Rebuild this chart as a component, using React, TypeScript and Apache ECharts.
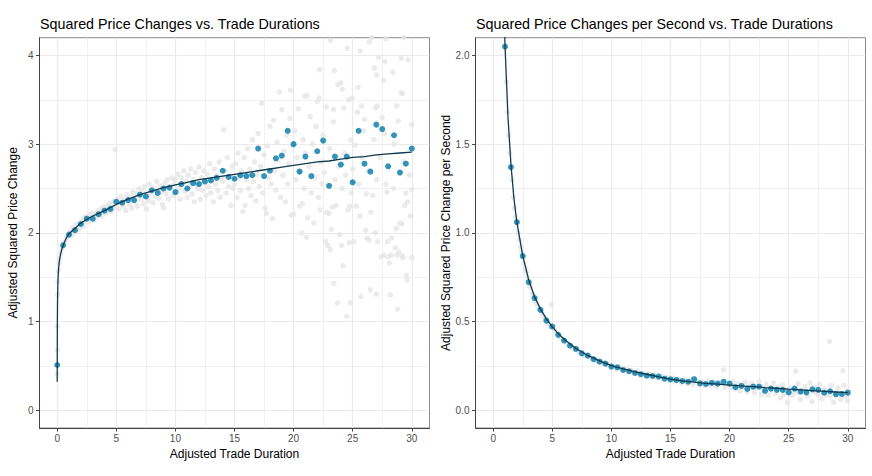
import React, { useEffect, useRef } from "react";
import * as echarts from "echarts";

// ---------- data ----------
const durations = [0, 0.5, 1, 1.5, 2, 2.5, 3, 3.5, 4, 4.5, 5, 5.5, 6, 6.5, 7, 7.5, 8, 8.5, 9, 9.5, 10, 10.5, 11, 11.5, 12, 12.5, 13, 13.5, 14, 14.5, 15, 15.5, 16, 16.5, 17, 17.5, 18, 18.5, 19, 19.5, 20, 20.5, 21, 21.5, 22, 22.5, 23, 23.5, 24, 24.5, 25, 25.5, 26, 26.5, 27, 27.5, 28, 28.5, 29, 29.5, 30];
const leftBlue = [0.51, 1.86, 1.98, 2.03, 2.1, 2.16, 2.16, 2.21, 2.25, 2.27, 2.35, 2.34, 2.37, 2.37, 2.43, 2.41, 2.48, 2.45, 2.5, 2.51, 2.46, 2.55, 2.5, 2.56, 2.55, 2.58, 2.59, 2.62, 2.7, 2.63, 2.61, 2.65, 2.64, 2.65, 2.95, 2.64, 2.7, 2.84, 2.87, 3.15, 3.0, 2.69, 2.86, 2.64, 2.92, 3.04, 2.53, 2.86, 2.77, 2.86, 2.57, 3.15, 2.78, 2.69, 3.22, 3.17, 2.75, 3.1, 2.68, 2.78, 2.95];

const rightDurations = [1, 1.5, 2, 2.5, 3, 3.5, 4, 4.5, 5, 5.5, 6, 6.5, 7, 7.5, 8, 8.5, 9, 9.5, 10, 10.5, 11, 11.5, 12, 12.5, 13, 13.5, 14, 14.5, 15, 15.5, 16, 16.5, 17, 17.5, 18, 18.5, 19, 19.5, 20, 20.5, 21, 21.5, 22, 22.5, 23, 23.5, 24, 24.5, 25, 25.5, 26, 26.5, 27, 27.5, 28, 28.5, 29, 29.5, 30];
const rightBlue = [2.05, 1.37, 1.06, 0.869, 0.722, 0.632, 0.566, 0.505, 0.472, 0.425, 0.393, 0.364, 0.346, 0.321, 0.308, 0.288, 0.274, 0.263, 0.246, 0.242, 0.227, 0.22, 0.21, 0.203, 0.195, 0.193, 0.19, 0.178, 0.174, 0.171, 0.165, 0.161, 0.175, 0.152, 0.148, 0.154, 0.15, 0.161, 0.15, 0.13, 0.137, 0.12, 0.133, 0.133, 0.109, 0.122, 0.115, 0.115, 0.101, 0.122, 0.105, 0.101, 0.118, 0.115, 0.099, 0.107, 0.09, 0.092, 0.099];

const leftCurveX = [0, 0.005, 0.01, 0.02, 0.03, 0.05, 0.075, 0.1, 0.15, 0.2, 0.3, 0.4, 0.5, 0.6, 0.8, 1, 1.25, 1.5, 2, 2.5, 3, 3.5, 4, 5, 6, 7, 8, 9, 10, 11, 12, 13, 14, 15, 16, 17, 18, 19, 20, 21, 22, 23, 24, 25, 26, 27, 28, 29, 30];
const leftCurveY = [0.32, 0.7, 0.95, 1.15, 1.27, 1.4, 1.5, 1.57, 1.65, 1.7, 1.77, 1.82, 1.86, 1.89, 1.95, 1.99, 2.02, 2.05, 2.11, 2.15, 2.19, 2.22, 2.25, 2.32, 2.38, 2.43, 2.47, 2.51, 2.54, 2.57, 2.6, 2.62, 2.64, 2.66, 2.68, 2.7, 2.72, 2.74, 2.76, 2.78, 2.8, 2.81, 2.83, 2.85, 2.86, 2.88, 2.89, 2.9, 2.91];

const rightCurveX = [0.9, 0.95, 1, 1.25, 1.5, 1.75, 2, 2.5, 3, 3.5, 4, 4.5, 5, 5.5, 6, 7, 8, 9, 10, 11, 12, 13, 14, 15, 16, 17, 18, 19, 20, 21, 22, 23, 24, 25, 26, 27, 28, 29, 30];
const rightCurveY = [2.3, 2.17, 2.05, 1.65, 1.385, 1.195, 1.06, 0.87, 0.735, 0.64, 0.57, 0.515, 0.47, 0.432, 0.4, 0.348, 0.309, 0.278, 0.252, 0.233, 0.217, 0.203, 0.188, 0.175, 0.166, 0.158, 0.151, 0.147, 0.142, 0.137, 0.133, 0.128, 0.124, 0.119, 0.115, 0.111, 0.107, 0.103, 0.099];

const leftGray = [
  [0.0, 0.41], [0.01, 0.68], [0.02, 0.95], [0.04, 1.3], [0.06, 1.45], [0.1, 1.57], [0.15, 1.66], [0.2, 1.71], [0.3, 1.77], [0.4, 1.82], [0.6, 1.9], [0.7, 1.91], [0.8, 1.95], [0.9, 1.96],
  [1.1, 2.02], [1.2, 1.97], [1.3, 2.06], [1.4, 2.0], [1.6, 2.09], [1.7, 2.03], [1.8, 2.1], [1.9, 2.05], [2.1, 2.15], [2.2, 2.07], [2.3, 2.13], [2.4, 2.18], [2.6, 2.12], [2.7, 2.2], [2.8, 2.16], [2.9, 2.22],
  [3.1, 2.14], [3.2, 2.21], [3.3, 2.18], [3.4, 2.25], [3.6, 2.2], [3.7, 2.27], [3.8, 2.19], [3.9, 2.29], [4.1, 2.22], [4.2, 2.3], [4.3, 2.26], [4.4, 2.33], [4.6, 2.24], [4.7, 2.31], [4.8, 2.36], [4.9, 2.94], [4.95, 2.28],
  [5.1, 2.38], [5.2, 2.27], [5.3, 2.33], [5.4, 2.41], [5.6, 2.3], [5.7, 2.37], [5.8, 2.25], [5.9, 2.43], [6.1, 2.32], [6.2, 2.4], [6.3, 2.28], [6.4, 2.46], [6.6, 2.35], [6.7, 2.44], [6.8, 2.3], [6.9, 2.5],
  [7.1, 2.38], [7.2, 2.47], [7.3, 2.33], [7.4, 2.52], [7.55, 2.27], [7.6, 2.42], [7.7, 2.36], [7.8, 2.55], [7.9, 2.45], [8.1, 2.34], [8.2, 2.5], [8.3, 2.41], [8.4, 2.58], [8.6, 2.39], [8.7, 2.53], [8.8, 2.46], [8.9, 2.32],
  [9.0, 2.28], [9.1, 2.56], [9.2, 2.44], [9.3, 2.6], [9.4, 2.38], [9.6, 2.5], [9.7, 2.62], [9.8, 2.42], [9.9, 2.55],
  [10.0, 2.6], [10.1, 2.45], [10.2, 2.66], [10.3, 2.5], [10.4, 2.38], [10.5, 2.62], [10.6, 2.55], [10.7, 2.7], [10.8, 2.47], [10.9, 2.58], [11.0, 2.4], [11.1, 2.65], [11.2, 2.52], [11.3, 2.72], [11.4, 2.44], [11.5, 2.6], [11.6, 2.35], [11.7, 2.68], [11.8, 2.55], [11.9, 2.5],
  [12.0, 2.74], [12.1, 2.38], [12.2, 2.62], [12.3, 2.48], [12.4, 2.7], [12.5, 2.56], [12.6, 2.42], [12.7, 2.66], [12.8, 2.52], [12.9, 2.78], [13.0, 2.45], [13.1, 2.6], [13.2, 2.35], [13.3, 2.72], [13.4, 2.55], [13.5, 2.65], [13.6, 2.48], [13.7, 2.8], [13.8, 2.4], [13.9, 2.62],
  [14.0, 2.58], [14.1, 3.16], [14.2, 2.7], [14.3, 2.45], [14.4, 2.85], [14.5, 2.52], [14.6, 2.64], [14.7, 2.31], [14.8, 2.75], [14.9, 2.5],
  [15.0, 2.55], [15.1, 2.78], [15.2, 2.4], [15.3, 2.9], [15.4, 2.62], [15.5, 2.48], [15.6, 2.7], [15.7, 2.24], [15.8, 2.85], [15.9, 2.31], [16.0, 2.6], [16.1, 2.95], [16.2, 2.5], [16.3, 2.72], [16.4, 2.42], [16.5, 3.05], [16.6, 2.58], [16.7, 2.8], [16.8, 2.36], [16.9, 2.66],
  [17.0, 3.12], [17.1, 2.52], [17.2, 2.75], [17.3, 3.46], [17.4, 2.45], [17.5, 2.88], [17.6, 2.28], [17.7, 2.22], [17.8, 2.98], [17.9, 2.62], [18.0, 3.2], [18.1, 2.55], [18.2, 2.16], [18.3, 3.27], [18.4, 2.7], [18.5, 2.48], [18.6, 3.02], [18.7, 2.82], [18.8, 3.59], [18.9, 2.4],
  [19.0, 3.39], [19.1, 2.65], [19.2, 2.92], [19.3, 2.35], [19.4, 3.1], [19.5, 2.55], [19.6, 2.78], [19.7, 3.29], [19.75, 3.61], [19.8, 2.2], [19.9, 2.98],
  [20.0, 2.21], [20.1, 3.15], [20.2, 2.6], [20.3, 2.85], [20.4, 3.4], [20.5, 2.3], [20.6, 2.7], [20.7, 2.0], [20.75, 2.33], [20.8, 3.05], [20.9, 2.5], [20.95, 3.54],
  [21.0, 2.9], [21.1, 1.95], [21.15, 3.55], [21.2, 2.17], [21.3, 2.75], [21.4, 3.31], [21.5, 2.45], [21.6, 3.0], [21.7, 2.11], [21.8, 2.62], [21.9, 3.2],
  [22.0, 3.48], [22.1, 2.4], [22.15, 3.52], [22.2, 3.84], [22.25, 2.26], [22.3, 2.8], [22.4, 2.55], [22.5, 3.1], [22.6, 2.68], [22.7, 1.9], [22.75, 3.42], [22.8, 2.23], [22.9, 1.86],
  [23.0, 2.22], [23.05, 2.95], [23.1, 1.81], [23.12, 4.17], [23.2, 2.04], [23.3, 2.29], [23.35, 3.25], [23.38, 3.39], [23.4, 1.43], [23.45, 3.83], [23.5, 2.6], [23.6, 2.31], [23.7, 1.21], [23.75, 3.67], [23.8, 2.75], [23.9, 1.98],
  [24.0, 3.69], [24.05, 1.86], [24.1, 2.5], [24.12, 3.62], [24.2, 1.63], [24.25, 3.41], [24.3, 2.9], [24.4, 2.65], [24.5, 1.06], [24.55, 4.08], [24.6, 2.26], [24.65, 3.5], [24.7, 1.89], [24.75, 2.3], [24.8, 1.21], [24.85, 3.05], [24.9, 2.45], [24.95, 3.52],
  [25.0, 2.72], [25.1, 1.9], [25.2, 2.99], [25.3, 2.3], [25.4, 3.36], [25.45, 3.64], [25.5, 2.55], [25.6, 2.19], [25.62, 4.05], [25.7, 1.28], [25.75, 3.43], [25.8, 2.85], [25.9, 3.15],
  [26.0, 3.28], [26.1, 2.03], [26.15, 2.44], [26.2, 1.94], [26.3, 2.7], [26.4, 1.92], [26.42, 4.15], [26.5, 1.36], [26.55, 2.23], [26.6, 4.2], [26.7, 2.42], [26.8, 3.05], [26.85, 3.86], [26.9, 2.0], [26.95, 3.41],
  [27.0, 1.31], [27.02, 3.78], [27.05, 2.6], [27.08, 3.43], [27.1, 1.9], [27.2, 3.98], [27.3, 2.85], [27.4, 1.73], [27.5, 3.3], [27.6, 3.72], [27.65, 1.75], [27.7, 3.12], [27.72, 3.93], [27.8, 2.55], [27.82, 4.19], [27.9, 2.46], [27.95, 1.9],
  [28.0, 1.73], [28.1, 1.66], [28.2, 1.3], [28.25, 1.75], [28.3, 1.94], [28.4, 3.81], [28.45, 2.5], [28.5, 3.0], [28.6, 1.83], [28.7, 2.05], [28.72, 3.43], [28.75, 1.75], [28.8, 1.14], [28.85, 3.26], [28.9, 1.78],
  [29.0, 2.11], [29.1, 3.58], [29.12, 3.97], [29.15, 2.1], [29.2, 1.74], [29.22, 3.57], [29.25, 1.72], [29.3, 2.8], [29.32, 4.2], [29.4, 2.31], [29.5, 2.45], [29.55, 1.52], [29.6, 1.47], [29.65, 2.35], [29.7, 3.95], [29.8, 2.65], [29.9, 2.19],
  [30.0, 1.72], [30.0, 3.22], [30.0, 2.49],
];

const rightGray = [
  [1.1, 1.85], [1.2, 1.68], [1.3, 1.55], [1.4, 1.45], [1.6, 1.3], [1.7, 1.2], [1.8, 1.14], [1.9, 1.09], [2.1, 1.0], [2.2, 0.96], [2.3, 0.92], [2.4, 0.89], [2.6, 0.83], [2.7, 0.8], [2.8, 0.78], [2.9, 0.75],
  [3.1, 0.7], [3.2, 0.69], [3.3, 0.66], [3.4, 0.65], [3.6, 0.61], [3.7, 0.6], [3.8, 0.58], [3.9, 0.57], [4.1, 0.55], [4.2, 0.53], [4.4, 0.52], [4.6, 0.49], [4.8, 0.47], [4.93, 0.594],
  [5.2, 0.45], [5.4, 0.43], [5.7, 0.41], [5.9, 0.4], [6.2, 0.38], [6.4, 0.37], [6.7, 0.355], [6.9, 0.345], [7.2, 0.33], [7.4, 0.325], [7.7, 0.31], [7.9, 0.31], [8.2, 0.295], [8.4, 0.29], [8.7, 0.28], [8.9, 0.275],
  [9.2, 0.27], [9.4, 0.26], [9.7, 0.255], [9.9, 0.25], [10.2, 0.255], [10.4, 0.235], [10.7, 0.245], [10.9, 0.225], [11.2, 0.235], [11.4, 0.215], [11.7, 0.225], [11.9, 0.21], [12.2, 0.22], [12.4, 0.2], [12.7, 0.21], [12.9, 0.195],
  [13.2, 0.205], [13.4, 0.185], [13.7, 0.2], [13.9, 0.18], [14.2, 0.195], [14.4, 0.175], [14.7, 0.185], [14.9, 0.168], [15.2, 0.182], [15.4, 0.16], [15.7, 0.175], [15.9, 0.155], [16.2, 0.172], [16.4, 0.15], [16.7, 0.168], [16.9, 0.148],
  [17.2, 0.165], [17.4, 0.142], [17.7, 0.16], [17.9, 0.14], [18.2, 0.165], [18.4, 0.138], [18.7, 0.158], [18.9, 0.132], [19.2, 0.156], [19.5, 0.227], [19.6, 0.13], [19.8, 0.152],
  [20.1, 0.128], [20.2, 0.14], [20.3, 0.16], [20.5, 0.12], [20.7, 0.148], [20.9, 0.11], [21.0, 0.13], [21.1, 0.14], [21.3, 0.158], [21.5, 0.105], [21.7, 0.135], [21.9, 0.152], [22.0, 0.125], [22.1, 0.1], [22.3, 0.128], [22.5, 0.16],
  [22.7, 0.09], [22.9, 0.118], [23.0, 0.12], [23.1, 0.145], [23.3, 0.085], [23.5, 0.112], [23.6, 0.13], [23.7, 0.155], [23.9, 0.095], [24.0, 0.115], [24.1, 0.13], [24.3, 0.07], [24.5, 0.145], [24.6, 0.09], [24.7, 0.1], [24.9, 0.045],
  [25.0, 0.11], [25.1, 0.125], [25.3, 0.085], [25.5, 0.1], [25.6, 0.221], [25.8, 0.15], [26.0, 0.06], [26.1, 0.11], [26.2, 0.115], [26.4, 0.135], [26.5, 0.095], [26.6, 0.08], [26.8, 0.155], [27.0, 0.05], [27.1, 0.105], [27.2, 0.13],
  [27.4, 0.095], [27.5, 0.088], [27.6, 0.145], [27.8, 0.065], [28.0, 0.12], [28.1, 0.1], [28.2, 0.085], [28.45, 0.387], [28.5, 0.082], [28.6, 0.14], [28.8, 0.045], [29.0, 0.1], [29.1, 0.095], [29.2, 0.125], [29.4, 0.06], [29.5, 0.08],
  [29.6, 0.222], [29.7, 0.14], [29.9, 0.075], [30.0, 0.11], [30.0, 0.055], [30.0, 0.09],
];

const xTicks = [0, 5, 10, 15, 20, 25, 30];
const leftYTicks = [0, 1, 2, 3, 4];
const rightYTicks = [0, 0.5, 1, 1.5, 2];

const titles = ["Squared Price Changes vs. Trade Durations", "Squared Price Changes per Second vs. Trade Durations"];
const xName = "Adjusted Trade Duration";
const yNames = ["Adjusted Squared Price Change", "Adjusted Squared Price Change per Second"];

// ---------- styles ----------
const FONT = "'Liberation Sans', Arial, Helvetica, sans-serif";
const BLUE = "#0078A6";
const LINE = "#0F3A4E";
const GRAY = "#E6E6E6";
const GRID = "#EBEBEB";

function near(list: number[], v: number) {
  return list.some((t) => Math.abs(t - v) < 1e-6);
}

function xAxis(gridIndex: number) {
  return {
    type: "value",
    gridIndex,
    min: -1.5,
    max: 31.5,
    splitNumber: 6,
    name: xName,
    nameLocation: "middle",
    nameGap: 17,
    nameTextStyle: { fontFamily: FONT, fontSize: 12, color: "#000" },
    axisLine: { show: true, onZero: false, lineStyle: { color: "#444", width: 1 } },
    axisTick: { show: true, length: 3.5, customValues: xTicks, lineStyle: { color: "#444", width: 1 } },
    axisLabel: {
      customValues: xTicks,
      margin: 5,
      fontFamily: FONT,
      fontSize: 10,
      color: "#4D4D4D",
      formatter: (v: number) => (near(xTicks, v) ? String(v) : ""),
    },
    splitLine: { show: true, lineStyle: { color: GRID, width: 1.2 } },
    minorTick: { show: false, splitNumber: 2 },
    minorSplitLine: { show: true, lineStyle: { color: GRID, width: 0.7 } },
  };
}

function yAxis(gridIndex: number, min: number, max: number, ticks: number[], name: string, digits: number) {
  return {
    type: "value",
    gridIndex,
    min,
    max,
    splitNumber: 5,
    name,
    nameLocation: "middle",
    nameGap: 21,
    nameTextStyle: { fontFamily: FONT, fontSize: 12, color: "#000" },
    axisLine: { show: true, onZero: false, lineStyle: { color: "#444", width: 1 } },
    axisTick: { show: true, length: 3.5, customValues: ticks, lineStyle: { color: "#444", width: 1 } },
    axisLabel: {
      customValues: ticks,
      margin: 6,
      fontFamily: FONT,
      fontSize: 10,
      color: "#4D4D4D",
      formatter: (v: number) => (near(ticks, v) ? v.toFixed(digits) : ""),
    },
    splitLine: { show: true, lineStyle: { color: GRID, width: 1.2 } },
    minorTick: { show: false, splitNumber: 2 },
    minorSplitLine: { show: true, lineStyle: { color: GRID, width: 0.7 } },
  };
}

export default function App() {
  const ref = useRef<HTMLDivElement>(null);
  useEffect(() => {
    if (!ref.current) return;
    const chart = echarts.init(ref.current, undefined, { renderer: "svg" });
    const zip = (xs: number[], ys: number[]) => xs.map((x, i) => [x, ys[i]]);
    const titleStyle = { fontFamily: FONT, fontSize: 14.3, fontWeight: "normal", color: "#000" };
    chart.setOption({
      animation: false,
      backgroundColor: "#fff",
      title: [
        { text: titles[0], left: 40, top: 16.5, padding: 0, textStyle: titleStyle },
        { text: titles[1], left: 476, top: 16.5, padding: 0, textStyle: titleStyle },
      ],
      grid: [
        { left: 39.5, top: 37.7, width: 390, height: 390.3, show: true, borderColor: "#8a8a8a", borderWidth: 1, backgroundColor: "transparent" },
        { left: 475.5, top: 37.7, width: 390, height: 390.3, show: true, borderColor: "#8a8a8a", borderWidth: 1, backgroundColor: "transparent" },
      ],
      xAxis: [xAxis(0), xAxis(1)],
      yAxis: [
        yAxis(0, -0.2, 4.2, leftYTicks, yNames[0], 0),
        yAxis(1, -0.1, 2.1, rightYTicks, yNames[1], 1),
      ],
      series: [
        { type: "scatter", xAxisIndex: 0, yAxisIndex: 0, data: leftGray, symbolSize: 5.5, itemStyle: { color: GRAY }, silent: true, z: 2 },
        { type: "scatter", xAxisIndex: 0, yAxisIndex: 0, data: zip(durations, leftBlue), symbolSize: 6, itemStyle: { color: BLUE }, silent: true, z: 3 },
        { type: "line", xAxisIndex: 0, yAxisIndex: 0, data: zip(leftCurveX, leftCurveY), showSymbol: false, symbol: "none", lineStyle: { color: LINE, width: 1.3 }, silent: true, z: 4 },
        { type: "scatter", xAxisIndex: 1, yAxisIndex: 1, data: rightGray, symbolSize: 5.5, itemStyle: { color: GRAY }, silent: true, z: 2 },
        { type: "scatter", xAxisIndex: 1, yAxisIndex: 1, data: zip(rightDurations, rightBlue), symbolSize: 6, itemStyle: { color: BLUE }, silent: true, z: 3 },
        { type: "line", xAxisIndex: 1, yAxisIndex: 1, data: zip(rightCurveX, rightCurveY), showSymbol: false, symbol: "none", clip: true, lineStyle: { color: LINE, width: 1.3 }, silent: true, z: 4 },
      ],
    });
    return () => chart.dispose();
  }, []);
  return <div ref={ref} style={{ position: "fixed", left: 0, top: 0, width: 872, height: 476, background: "#fff" }} />;
}
